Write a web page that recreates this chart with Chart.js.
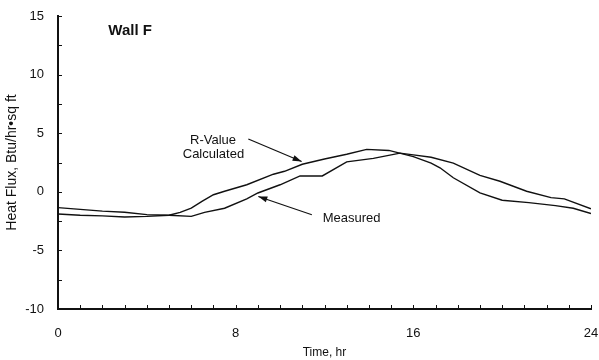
<!DOCTYPE html>
<html>
<head>
<meta charset="utf-8">
<script src="https://cdn.jsdelivr.net/npm/chart.js@4.4.1/dist/chart.umd.min.js"></script>
<style>
  html, body { margin: 0; padding: 0; background: #fff; }
  #wrap { width: 599px; height: 360px; position: relative; }
</style>
</head>
<body>
<div id="wrap"><canvas id="fluxChart"></canvas></div>
<script>
// Wall F – heat flux over a day, R-value calculation vs. measurement
const calcHours = [0, 1, 2, 3, 4, 5, 5.5, 6, 6.5, 7, 7.5, 8.5, 9.7, 10.2, 11, 12, 13, 13.9, 14.9, 16, 16.8, 17.2, 17.8, 19, 20, 21.2, 22.4, 23.2, 24];
const calcFlux  = [-1.9, -2.0, -2.05, -2.15, -2.1, -2.0, -1.75, -1.4, -0.8, -0.25, 0.05, 0.6, 1.5, 1.75, 2.35, 2.8, 3.2, 3.62, 3.53, 3.0, 2.45, 2.05, 1.2, -0.1, -0.72, -0.92, -1.18, -1.4, -1.85];

const measHours = [0, 1, 2, 3, 4, 5, 6, 6.6, 7.5, 8.5, 9, 10, 10.9, 11.9, 13, 14.2, 15.4, 16, 16.8, 17.8, 19, 19.9, 21.1, 22.2, 22.8, 24];
const measFlux  = [-1.35, -1.5, -1.65, -1.75, -1.95, -2.0, -2.1, -1.75, -1.4, -0.6, -0.1, 0.6, 1.35, 1.35, 2.55, 2.85, 3.3, 3.15, 2.95, 2.45, 1.4, 0.9, 0.05, -0.5, -0.6, -1.45];

const xLabels = [0, 8, 16, 24];
const yLabels = [-10, -5, 0, 5, 10, 15];

const FONT = "'Liberation Sans', Arial, Helvetica, sans-serif";
const INK  = '#111';

function toPoints(xs, ys) {
    return xs.map((x, i) => ({ x: x, y: ys[i] }));
}

/* ── inward tick marks + labels on the plot ───────────── */
const decorations = {
    id: 'decorations',
    afterDraw(chart) {
        const ctx = chart.ctx;
        const xs = chart.scales.x, ys = chart.scales.y;
        const area = chart.chartArea;
        ctx.save();
        ctx.strokeStyle = INK;
        ctx.lineWidth = 1;

        // ticks point into the plot
        xs.ticks.forEach(t => {
            const px = Math.round(xs.getPixelForValue(t.value)) + 0.5;
            ctx.beginPath();
            ctx.moveTo(px, area.bottom);
            ctx.lineTo(px, area.bottom - 4);
            ctx.stroke();
        });
        ys.ticks.forEach(t => {
            const py = Math.round(ys.getPixelForValue(t.value)) + 0.5;
            ctx.beginPath();
            ctx.moveTo(area.left, py);
            ctx.lineTo(area.left + 4, py);
            ctx.stroke();
        });

        const P = (h, v) => [xs.getPixelForValue(h), ys.getPixelForValue(v)];

        // text
        ctx.fillStyle = INK;
        ctx.textAlign = 'center';
        ctx.textBaseline = 'middle';
        ctx.font = 'bold 15px ' + FONT;
        let p = P(3.25, 13.75);
        ctx.fillText('Wall F', p[0], p[1]);

        ctx.font = '13px ' + FONT;
        p = P(6.98, 4.38);
        ctx.fillText('R-Value', p[0], p[1]);
        p = P(7.0, 3.16);
        ctx.fillText('Calculated', p[0], p[1]);
        p = P(13.22, -2.3);
        ctx.fillText('Measured', p[0], p[1]);

        // arrows
        function arrow(from, to) {
            const a = P(from[0], from[1]), b = P(to[0], to[1]);
            const ang = Math.atan2(b[1] - a[1], b[0] - a[0]);
            ctx.beginPath();
            ctx.moveTo(a[0], a[1]);
            ctx.lineTo(b[0], b[1]);
            ctx.lineWidth = 1.2;
            ctx.stroke();
            const len = 9, w = 3;
            ctx.beginPath();
            ctx.moveTo(b[0], b[1]);
            ctx.lineTo(b[0] - len * Math.cos(ang) + w * Math.sin(ang), b[1] - len * Math.sin(ang) - w * Math.cos(ang));
            ctx.lineTo(b[0] - len * Math.cos(ang) - w * Math.sin(ang), b[1] - len * Math.sin(ang) + w * Math.cos(ang));
            ctx.closePath();
            ctx.fill();
        }
        arrow([8.57, 4.5], [10.97, 2.59]);
        arrow([11.43, -1.96], [9.02, -0.4]);
        ctx.restore();
    }
};

new Chart(document.getElementById('fluxChart'), {
    type: 'line',
    data: {
        datasets: [
            {
                label: 'R-Value Calculated',
                data: toPoints(calcHours, calcFlux),
                borderColor: INK,
                borderWidth: 1.4,
                pointRadius: 0,
                tension: 0
            },
            {
                label: 'Measured',
                data: toPoints(measHours, measFlux),
                borderColor: INK,
                borderWidth: 1.4,
                pointRadius: 0,
                tension: 0
            }
        ]
    },
    options: {
        responsive: true,
        maintainAspectRatio: false,
        animation: false,
        layout: { padding: { top: 16, right: 8, left: 0, bottom: 0 } },
        plugins: {
            legend: { display: false },
            tooltip: { enabled: false }
        },
        scales: {
            x: {
                type: 'linear',
                min: 0,
                max: 24,
                afterBuildTicks(scale) {
                    const t = [];
                    for (let h = 0; h <= 24; h++) t.push({ value: h });
                    scale.ticks = t;
                },
                grid: { display: false, drawTicks: false },
                border: { display: true, color: INK, width: 2 },
                ticks: {
                    autoSkip: false,
                    maxRotation: 0,
                    padding: 17,
                    color: INK,
                    font: { family: FONT, size: 13 },
                    callback: v => xLabels.includes(v) ? String(v) : ''
                },
                title: {
                    display: true,
                    text: 'Time, hr',
                    color: INK,
                    font: { family: FONT, size: 12 },
                    padding: { top: 4, bottom: 0 }
                },
                afterFit(scale) {
                    scale.height = 51;
                    scale.paddingLeft = 0;
                    scale.paddingRight = 0;
                }
            },
            y: {
                min: -10,
                max: 15,
                afterBuildTicks(scale) {
                    const t = [];
                    for (let v = -10; v <= 15; v += 2.5) t.push({ value: v });
                    scale.ticks = t;
                },
                grid: { display: false, drawTicks: false },
                border: { display: true, color: INK, width: 2 },
                ticks: {
                    autoSkip: false,
                    padding: 14,
                    color: INK,
                    font: { family: FONT, size: 13 },
                    callback: v => yLabels.includes(v) ? String(v) : ''
                },
                title: {
                    display: true,
                    text: 'Heat Flux, Btu/hr•sq ft',
                    color: INK,
                    font: { family: FONT, size: 14 },
                    padding: { top: 4, bottom: 0 }
                },
                afterFit(scale) {
                    scale.width = 58;
                    scale.paddingTop = 0;
                    scale.paddingBottom = 0;
                }
            }
        }
    },
    plugins: [decorations]
});
</script>
</body>
</html>
